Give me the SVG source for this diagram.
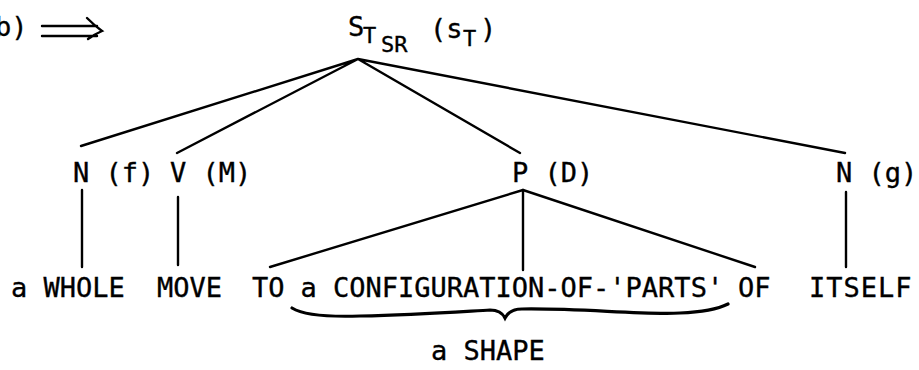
<svg xmlns="http://www.w3.org/2000/svg" width="919" height="370" viewBox="0 0 919 370">
<style>
text{font-family:"DejaVu Sans Mono","Liberation Mono",monospace;font-size:27px;fill:#000;stroke:#000;stroke-width:0.35}
.sub{font-size:22px}
.ln{stroke:#000;stroke-width:2.4;fill:none;stroke-linecap:round}
</style>
<rect width="919" height="370" fill="#fff"/>
<g id="label-b">
<text x="-5" y="36">b)</text>
<path class="ln" d="M42,26 H97 M42,36 H97 M87,18 Q95,26 102,31 Q95,34 88,39"/>
</g>
<g id="connectors">
<path class="ln" d="M358,59 L81,146 M358,59 L177,153 M358,59 L520,153 M358,59 L845,153"/>
<path class="ln" d="M82,190 V267 M178,197 V265 M523,190 V270 M846,192 V267"/>
<path class="ln" d="M523,190 L270,267 M523,190 L755,267"/>
</g>
<g id="root">
<text x="348" y="36">S</text>
<text class="sub" x="363" y="43">T</text>
<text class="sub" x="381" y="52">SR</text>
<text x="430" y="38">(s</text>
<text class="sub" x="463" y="46">T</text>
<text x="480" y="38">)</text>
</g>
<g id="node-Nf"><text x="73" y="182">N (f)</text></g>
<g id="node-VM"><text x="170" y="182">V (M)</text></g>
<g id="node-PD"><text x="512" y="182">P (D)</text></g>
<g id="node-Ng"><text x="836" y="182">N (g)</text></g>
<g id="leaf-whole"><text x="11" y="297">a WHOLE</text></g>
<g id="leaf-move"><text x="157" y="297">MOVE</text></g>
<g id="leaf-to"><text x="252" y="297">TO</text></g>
<g id="leaf-config"><text x="300.5" y="297">a CONFIGURATION-OF-'PARTS'</text></g>
<g id="leaf-of"><text x="738" y="297">OF</text></g>
<g id="leaf-itself"><text x="809" y="297" letter-spacing="1">ITSELF</text></g>
<g id="brace">
<path d="M292,308 C305,316 330,317 360,316 C420,315 470,311 490,310 C498,310 503,314 505,318 C507,314 512,309 522,309 C580,308 640,315 680,313 C705,312 720,308 728,304" fill="none" stroke="#000" stroke-width="3.2" stroke-linecap="round"/>
</g>
<g id="shape"><text x="431" y="360">a SHAPE</text></g>
</svg>
